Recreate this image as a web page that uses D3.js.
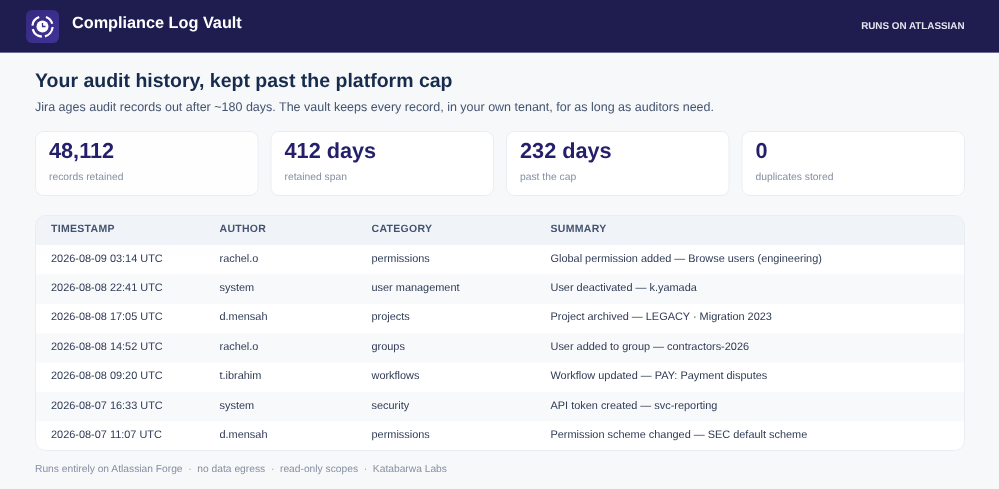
<!DOCTYPE html>
<html>
<head>
<meta charset="utf-8">
<title>Compliance Log Vault</title>
<script src="https://cdn.jsdelivr.net/npm/d3@7"></script>
<style>
  html, body { margin: 0; padding: 0; background: #f7f8fa; overflow: hidden; }
  svg { display: block; will-change: opacity; opacity: 0.999; }
  text { font-family: "Liberation Sans", Arial, sans-serif; text-rendering: geometricPrecision; }
</style>
</head>
<body>
<svg id="page" width="999" height="489"></svg>
<script>
// card values
var cardValues = ["48,112", "412 days", "232 days", "0"];
var cardLabels = ["records retained", "retained span", "past the cap", "duplicates stored"];

// table
var columns = ["TIMESTAMP", "AUTHOR", "CATEGORY", "SUMMARY"];
var timestamps = ["2026-08-09 03:14 UTC", "2026-08-08 22:41 UTC", "2026-08-08 17:05 UTC", "2026-08-08 14:52 UTC", "2026-08-08 09:20 UTC", "2026-08-07 16:33 UTC", "2026-08-07 11:07 UTC"];
var authors = ["rachel.o", "system", "d.mensah", "rachel.o", "t.ibrahim", "system", "d.mensah"];
var categories = ["permissions", "user management", "projects", "groups", "workflows", "security", "permissions"];
var summaries = [
    "Global permission added — Browse users (engineering)",
    "User deactivated — k.yamada",
    "Project archived — LEGACY · Migration 2023",
    "User added to group — contractors-2026",
    "Workflow updated — PAY: Payment disputes",
    "API token created — svc-reporting",
    "Permission scheme changed — SEC default scheme"
];
var footerParts = ["Runs entirely on Atlassian Forge", "no data egress", "read-only scopes", "Katabarwa Labs"];

var svg = d3.select("#page");

var defs = svg.append("defs");
var grad = defs.append("linearGradient").attr("id", "iconFill")
    .attr("x1", 0).attr("y1", 0).attr("x2", 1).attr("y2", 1);
grad.append("stop").attr("offset", "0%").attr("stop-color", "#35297f");
grad.append("stop").attr("offset", "100%").attr("stop-color", "#403399");
defs.append("clipPath").attr("id", "tableClip").append("rect")
    .attr("x", 35.5).attr("y", 215.5).attr("width", 929).attr("height", 235).attr("rx", 10);

// header bar
svg.append("rect").attr("width", 999).attr("height", 52).attr("fill", "#1f1c4f");
svg.append("rect").attr("y", 52).attr("width", 999).attr("height", 1).attr("fill", "#6f6a94");

// icon
var icon = svg.append("g").attr("transform", "translate(26,10)");
icon.append("rect").attr("width", 33).attr("height", 33).attr("rx", 6).attr("fill", "url(#iconFill)");
var mark = icon.append("g").attr("transform", "translate(16.5,16.5)");
var arc = d3.arc().innerRadius(9).outerRadius(11.2);
var gaps = [[0.35, 1.3], [1.62, 2.9], [3.2, 4.45], [4.8, 5.95]];
mark.selectAll("path.seg").data(gaps).enter().append("path").attr("class", "seg")
    .attr("d", function(d) { return arc({ startAngle: d[0], endAngle: d[1] }); })
    .attr("fill", "#ffffff");
mark.append("circle").attr("r", 6).attr("fill", "#ffffff");
mark.append("path").attr("d", "M0,-3.6V0H3").attr("fill", "none")
    .attr("stroke", "#3a2e8c").attr("stroke-width", 1.3);

svg.append("text").attr("x", 72).attr("y", 28).text("Compliance Log Vault")
    .attr("font-size", 16.25).attr("font-weight", 700).attr("fill", "#ffffff");
svg.append("text").attr("x", 964.5).attr("y", 29).attr("text-anchor", "end").text("RUNS ON ATLASSIAN")
    .attr("font-size", 9.85).attr("font-weight", 700).attr("fill", "#e6e6f0");

// heading
svg.append("text").attr("x", 35).attr("y", 86.5).text("Your audit history, kept past the platform cap")
    .attr("font-size", 19.5).attr("font-weight", 700).attr("fill", "#172b4d");
svg.append("text").attr("x", 35).attr("y", 111).text("Jira ages audit records out after ~180 days. The vault keeps every record, in your own tenant, for as long as auditors need.")
    .attr("font-size", 12.5).attr("fill", "#44546f");

// cards
var cardX = d3.scaleBand().domain(d3.range(cardValues.length)).range([35, 965]).paddingInner(0.051).paddingOuter(0);
var cards = svg.selectAll("g.card").data(cardValues).enter().append("g").attr("class", "card")
    .attr("transform", function(d, i) { return "translate(" + cardX(i) + ",131)"; });
cards.append("rect").attr("x", 0.5).attr("y", 0.5)
    .attr("width", cardX.bandwidth() - 1).attr("height", 64).attr("rx", 8)
    .attr("fill", "#ffffff").attr("stroke", "#e9edf3");
cards.append("text").attr("x", 14).attr("y", 26.5).text(function(d) { return d; })
    .attr("font-size", 21.7).attr("font-weight", 700).attr("fill", "#241f6b");
cards.append("text").attr("x", 14).attr("y", 49).text(function(d, i) { return cardLabels[i]; })
    .attr("font-size", 10.3).attr("fill", "#8590a2");

// table
var rowY = d3.scaleBand().domain(d3.range(timestamps.length)).range([245, 451]);
var colX = d3.scaleOrdinal().domain(columns).range([51, 219.5, 371.5, 550.5]);
var tableRows = timestamps.map(function(t, i) { return [t, authors[i], categories[i], summaries[i]]; });

var tbl = svg.append("g");
var clipped = tbl.append("g").attr("clip-path", "url(#tableClip)");
clipped.append("rect").attr("x", 35).attr("y", 215).attr("width", 930).attr("height", 236).attr("fill", "#ffffff");
clipped.selectAll("rect.stripe").data(tableRows).enter().append("rect").attr("class", "stripe")
    .attr("x", 35).attr("width", 930)
    .attr("y", function(d, i) { return rowY(i); })
    .attr("height", rowY.bandwidth())
    .attr("fill", function(d, i) { return i % 2 ? "#f8f9fb" : "#ffffff"; });
clipped.append("rect").attr("x", 35).attr("y", 215).attr("width", 930).attr("height", 30).attr("fill", "#f0f3f8");
tbl.append("rect").attr("x", 35.5).attr("y", 215.5).attr("width", 929).attr("height", 235).attr("rx", 10)
    .attr("fill", "none").attr("stroke", "#e9edf3");

tbl.selectAll("text.head").data(columns).enter().append("text").attr("class", "head")
    .attr("x", function(d) { return colX(d); }).attr("y", 232)
    .text(function(d) { return d; })
    .attr("font-size", 10.5).attr("font-weight", 700).attr("letter-spacing", 0.3).attr("fill", "#44546f");

var rows = tbl.selectAll("g.row").data(tableRows).enter().append("g").attr("class", "row")
    .attr("transform", function(d, i) { return "translate(0," + (rowY(i) + rowY.bandwidth() / 2 + 1.8) + ")"; });
rows.selectAll("text").data(function(d) { return d; }).enter().append("text")
    .attr("x", function(d, i) { return colX(columns[i]); })
    .text(function(d) { return d; })
    .attr("font-size", 10.93).attr("fill", "#2f3b55");

// footer
svg.append("text").attr("x", 35).attr("y", 472).text(footerParts.join("  ·  "))
    .style("white-space", "pre")
    .attr("font-size", 10.25).attr("fill", "#8590a2");
</script>
</body>
</html>
